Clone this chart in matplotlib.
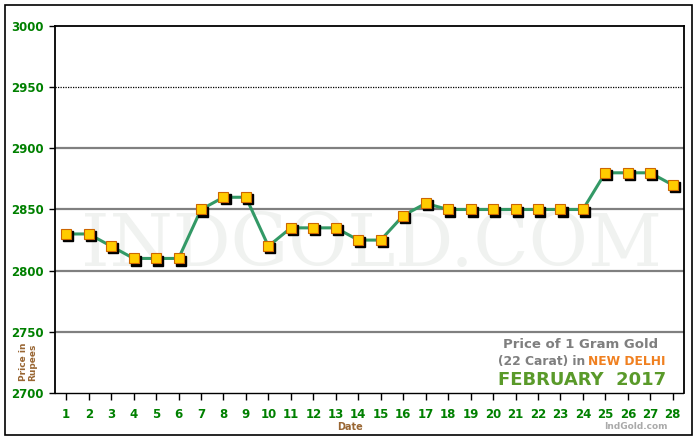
import matplotlib
matplotlib.use("Agg")
import matplotlib.pyplot as plt
from matplotlib.patches import Rectangle
from matplotlib.transforms import ScaledTranslation

days = list(range(1, 29))
prices = [2830, 2830, 2820, 2810, 2810, 2810, 2850, 2860, 2860, 2820,
          2835, 2835, 2835, 2825, 2825, 2845, 2855, 2850, 2850, 2850,
          2850, 2850, 2850, 2850, 2880, 2880, 2880, 2870]
yticks = [2700, 2750, 2800, 2850, 2900, 2950, 3000]

green = "#008000"
brown = "#996633"

fig = plt.figure(figsize=(7, 4.4), dpi=100)
ax = fig.add_axes([55/700, 47/440, 629/700, 367/440])

# outer frame
fig.patches.append(Rectangle((5/700, 5/440), 687/700, 430/440, transform=fig.transFigure,
                             fill=False, edgecolor="black", linewidth=1.2))

# watermark
ax.text(14.6, 2820, "INDGOLD.COM", ha="center", va="center", fontsize=52,
        family="DejaVu Serif", color="#f0f2f0", zorder=0)

# grid
for v in [2750, 2800, 2850, 2900]:
    ax.axhline(v, color="#808080", linewidth=1.6, zorder=1)
ax.axhline(2950, color="black", linewidth=0.9, linestyle=(0, (1, 1)), zorder=1)

ax.plot(days, prices, color="#339966", linewidth=2.2, zorder=2)
shadow = ax.transData + ScaledTranslation(1.5/72, -1.5/72, fig.dpi_scale_trans)
ax.plot(days, prices, linestyle="none", marker="s", markersize=6.5, color="black",
        transform=shadow, zorder=3)
ax.plot(days, prices, linestyle="none", marker="s", markersize=6.5,
        markerfacecolor="#ffcc00", markeredgecolor="#cc6600", markeredgewidth=0.8, zorder=4)

ax.set_xlim(0.5, 28.5)
ax.set_ylim(2700, 3000)
ax.set_xticks(days)
ax.set_yticks(yticks)
ax.tick_params(axis="x", direction="out", length=5, width=1, pad=6, labelsize=8.5,
               labelcolor=green)
ax.tick_params(axis="y", direction="out", length=4, width=1, pad=4, labelsize=8.5,
               labelcolor=green)
for lab in ax.get_xticklabels() + ax.get_yticklabels():
    lab.set_fontweight("bold")

for s in ["top", "left", "right"]:
    ax.spines[s].set_linewidth(1.3)
ax.spines["bottom"].set_linestyle((0, (2, 1)))
ax.spines["bottom"].set_linewidth(1)

fig.text(350/700, 1 - 427/440, "Date", color=brown, fontsize=7, fontweight="bold",
         ha="center", va="center")
fig.text(28/700, 1 - 362/440, "Price in\nRupees", color=brown, fontsize=6.5,
         fontweight="bold", rotation=90, ha="center", va="center", linespacing=1.0)

fig.text(581/700, 1 - 344/440, "Price of 1 Gram Gold", color="#7f7f7f", fontsize=9.5,
         fontweight="bold", ha="center", va="center")
t1 = fig.text(498/700, 1 - 361/440, "(22 Carat) in", color="#7f7f7f", fontsize=8.8,
              fontweight="bold", ha="left", va="center")
ax.annotate("NEW DELHI", xy=(1, 0.5), xycoords=t1, xytext=(2, 0),
            textcoords="offset points", color="#f08020", fontsize=8.8,
            fontweight="bold", ha="left", va="center", annotation_clip=False)
fig.text(582/700, 1 - 380/440, "FEBRUARY  2017", color="#5a9a2a", fontsize=13,
         fontweight="bold", ha="center", va="center")
fig.text(636/700, 1 - 426/440, "IndGold.com", color="#aaaaaa", fontsize=6.5,
         fontweight="bold", ha="center", va="center")

fig.savefig("out.png", dpi=100)
